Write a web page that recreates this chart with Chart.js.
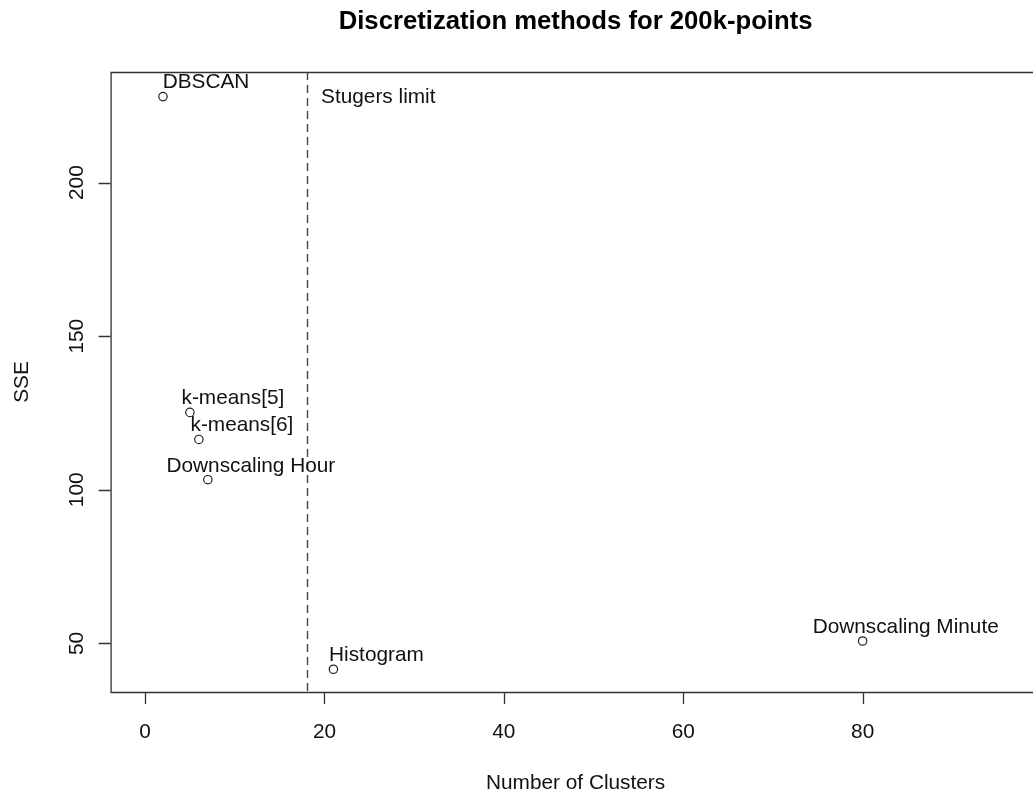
<!DOCTYPE html>
<html>
<head>
<meta charset="utf-8">
<title>Discretization methods for 200k-points</title>
<script src="https://cdn.jsdelivr.net/npm/chart.js@4"></script>
<style>
  html, body { margin: 0; padding: 0; background: #fff; overflow: hidden; }
  canvas { display: block; }
</style>
</head>
<body>
<canvas id="chart" width="1060" height="793" style="width:1060px;height:793px"></canvas>
<script>
// Discretization methods: number of clusters vs. SSE
const methods  = ['DBSCAN', 'k-means[5]', 'k-means[6]', 'Downscaling Hour', 'Histogram', 'Downscaling Minute'];
const clusters = [2, 5, 6, 7, 21, 80];
const sse      = [228.0, 125.2, 116.4, 103.3, 41.6, 50.8];

const xTicks = [0, 20, 40, 60, 80];
const yTicks = [50, 100, 150, 200];

const sturgesLimit = 18;
const sturgesLabel = 'Stugers limit';
const sturgesLabelAt = [26, 227.8];

const chartTitle = 'Discretization methods for 200k-points';
const xTitle = 'Number of Clusters';
const yTitle = 'SSE';

// label offset in data units (labels sit up and to the right of each point)
const LABEL_DX = 4.8, LABEL_DY = 4.5;

const FONT = '"Liberation Sans", Arial, Helvetica, sans-serif';
const INK = '#111';
const FRAME = '#333';

const basePlot = {
  id: 'basePlot',
  beforeDatasetsDraw(chart) {
    const { ctx, chartArea: a, scales: { x, y } } = chart;
    ctx.save();
    // plot frame (right side runs past the canvas view)
    ctx.strokeStyle = FRAME;
    ctx.lineWidth = 1.3;
    ctx.beginPath();
    ctx.moveTo(a.right + 5, a.top + 0.5);
    ctx.lineTo(a.left + 0.5, a.top + 0.5);
    ctx.lineTo(a.left + 0.5, a.bottom + 0.5);
    ctx.lineTo(a.right + 5, a.bottom + 0.5);
    ctx.stroke();

    // tick marks
    ctx.beginPath();
    xTicks.forEach(v => {
      const px = Math.round(x.getPixelForValue(v)) + 0.5;
      ctx.moveTo(px, a.bottom);
      ctx.lineTo(px, a.bottom + 12);
    });
    yTicks.forEach(v => {
      const py = Math.round(y.getPixelForValue(v)) + 0.5;
      ctx.moveTo(a.left, py);
      ctx.lineTo(a.left - 12, py);
    });
    ctx.stroke();

    // dashed vertical limit line
    const lx = Math.round(x.getPixelForValue(sturgesLimit)) + 0.5;
    ctx.strokeStyle = '#444';
    ctx.lineWidth = 1.4;
    ctx.setLineDash([8, 5]);
    ctx.beginPath();
    ctx.moveTo(lx, a.top);
    ctx.lineTo(lx, a.bottom);
    ctx.stroke();
    ctx.setLineDash([]);

    // tick labels
    ctx.fillStyle = INK;
    ctx.font = '20.8px ' + FONT;
    ctx.textAlign = 'center';
    ctx.textBaseline = 'middle';
    xTicks.forEach(v => ctx.fillText(String(v), x.getPixelForValue(v), a.bottom + 40));
    yTicks.forEach(v => {
      ctx.save();
      ctx.translate(a.left - 33, y.getPixelForValue(v));
      ctx.rotate(-Math.PI / 2);
      ctx.fillText(String(v), 0, 0);
      ctx.restore();
    });

    // axis titles
    const cx = (a.left + a.right) / 2;
    const cy = (a.top + a.bottom) / 2;
    ctx.fillText(xTitle, cx, a.bottom + 91);
    ctx.save();
    ctx.translate(22, cy);
    ctx.rotate(-Math.PI / 2);
    ctx.fillText(yTitle, 0, 0);
    ctx.restore();

    // main title
    ctx.font = 'bold 25.7px ' + FONT;
    ctx.fillStyle = '#000';
    ctx.fillText(chartTitle, cx, 22);

    // limit label
    ctx.font = '20.8px ' + FONT;
    ctx.fillStyle = INK;
    ctx.fillText(sturgesLabel, x.getPixelForValue(sturgesLabelAt[0]), y.getPixelForValue(sturgesLabelAt[1]));

    // point labels
    methods.forEach((m, i) => {
      ctx.fillText(m, x.getPixelForValue(clusters[i] + LABEL_DX), y.getPixelForValue(sse[i] + LABEL_DY));
    });
    ctx.restore();
  }
};

new Chart(document.getElementById('chart'), {
  type: 'scatter',
  data: {
    datasets: [{
      label: 'SSE',
      data: clusters.map((c, i) => ({ x: c, y: sse[i] })),
      pointRadius: 4.2,
      pointHoverRadius: 4.2,
      pointBorderWidth: 1.2,
      pointBorderColor: '#222',
      pointBackgroundColor: 'rgba(0,0,0,0)'
    }]
  },
  options: {
    responsive: false,
    animation: false,
    devicePixelRatio: 1,
    layout: { padding: { left: 110.6, top: 72, right: 19.4, bottom: 101 } },
    plugins: { legend: { display: false }, title: { display: false }, tooltip: { enabled: false } },
    scales: {
      x: { type: 'linear', display: false, min: -3.84, max: 99.84 },
      y: { type: 'linear', display: false, min: 34.2, max: 236.0 }
    }
  },
  plugins: [basePlot]
});
</script>
</body>
</html>
